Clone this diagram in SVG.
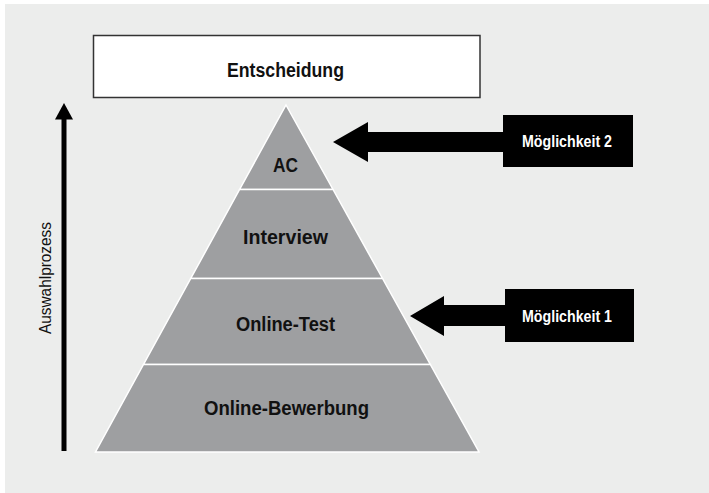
<svg xmlns="http://www.w3.org/2000/svg" width="709" height="493" viewBox="0 0 709 493">
  <style>
    .lbl { font-family: "Liberation Sans", Arial, sans-serif; font-weight: bold; font-size: 20px; fill: #111; }
    .opt { font-family: "Liberation Sans", Arial, sans-serif; font-weight: bold; font-size: 16px; fill: #fff; }
    .axis { font-family: "Liberation Sans", Arial, sans-serif; font-size: 17px; fill: #111; }
    .layer { fill: #9e9fa1; stroke: #ffffff; stroke-width: 1.5; stroke-linejoin: miter; }
    .box { fill: #000; }
    .arrow { fill: #000; }
  </style>
  <rect x="5" y="4" width="704" height="489" fill="#ecedec"/>

  <g id="entscheidung">
    <rect x="93.5" y="35.5" width="386.5" height="62" fill="#ffffff" stroke="#333" stroke-width="1.5"/>
    <text class="lbl" x="227" y="77" textLength="117" lengthAdjust="spacingAndGlyphs">Entscheidung</text>
  </g>

  <g id="layer-ac">
    <polygon class="layer" points="286,105 333,189.5 239.6,189.5"/>
    <text class="lbl" x="273" y="172" textLength="25" lengthAdjust="spacingAndGlyphs">AC</text>
  </g>
  <g id="layer-interview">
    <polygon class="layer" points="239.6,189.5 333,189.5 382.5,278.5 190.75,278.5"/>
    <text class="lbl" x="243" y="244" textLength="85" lengthAdjust="spacingAndGlyphs">Interview</text>
  </g>
  <g id="layer-onlinetest">
    <polygon class="layer" points="190.75,278.5 382.5,278.5 430.3,364.5 143.5,364.5"/>
    <text class="lbl" x="236" y="331" textLength="99" lengthAdjust="spacingAndGlyphs">Online-Test</text>
  </g>
  <g id="layer-bewerbung">
    <polygon class="layer" points="143.5,364.5 430.3,364.5 479,452 95.5,452"/>
    <text class="lbl" x="204" y="415" textLength="165" lengthAdjust="spacingAndGlyphs">Online-Bewerbung</text>
  </g>

  <g id="moeglichkeit2">
    <rect class="box" x="503" y="115" width="130" height="52"/>
    <text class="opt" x="522" y="147" textLength="90" lengthAdjust="spacingAndGlyphs">Möglichkeit 2</text>
  </g>
  <g id="moeglichkeit1">
    <rect class="box" x="505" y="289" width="129" height="53"/>
    <text class="opt" x="522" y="322" textLength="90" lengthAdjust="spacingAndGlyphs">Möglichkeit 1</text>
  </g>

  <g id="auswahlprozess">
    <rect x="61.5" y="117" width="5" height="334" fill="#000"/>
    <polygon points="55,119.5 64,103 73,119.5" fill="#000"/>
    <text class="axis" transform="translate(51,334) rotate(-90)" x="0" y="0" textLength="112" lengthAdjust="spacingAndGlyphs">Auswahlprozess</text>
  </g>

  <g id="connectors">
    <polygon class="arrow" points="333,142 368,122 368,132 504,132 504,152 368,152 368,162"/>
    <polygon class="arrow" points="410,316 444,296 444,305 506,305 506,326 444,326 444,336"/>
  </g>
</svg>
